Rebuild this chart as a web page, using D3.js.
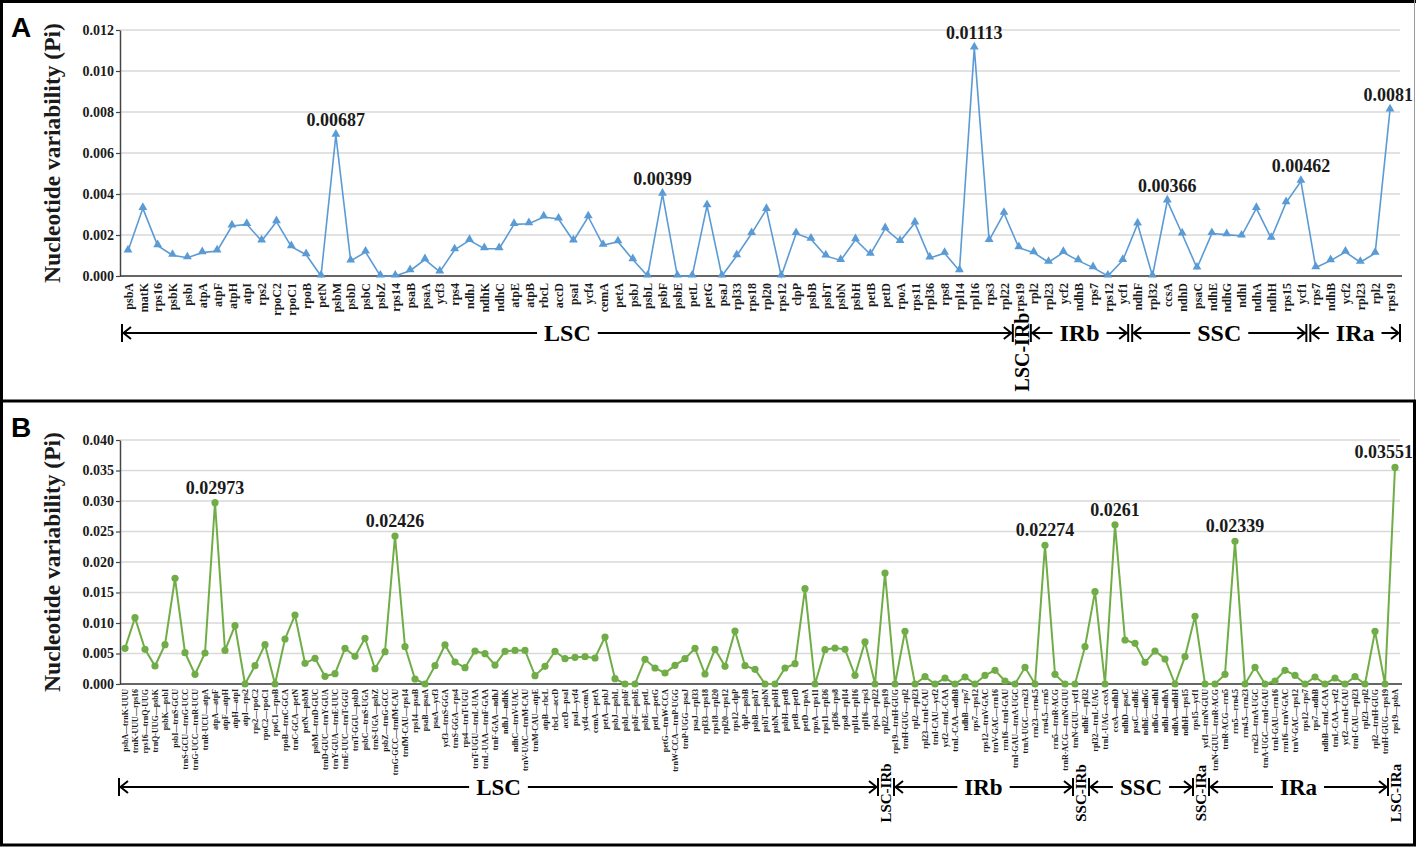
<!DOCTYPE html>
<html>
<head>
<meta charset="utf-8">
<script src="https://cdn.jsdelivr.net/npm/d3@7"></script>
<style>
  body { margin: 0; background: #fff; }
  svg { display: block; }
</style>
</head>
<body>
<svg id="chart" width="1417" height="847"></svg>
<script>
// ---- panel A: coding genes ----
const genesA = [
  "psbA", "matK", "rps16", "psbK", "psbI", "atpA", "atpF", "atpH", "atpI", "rps2",
  "rpoC2", "rpoC1", "rpoB", "petN", "psbM", "psbD", "psbC", "psbZ", "rps14", "psaB",
  "psaA", "ycf3", "rps4", "ndhJ", "ndhK", "ndhC", "atpE", "atpB", "rbcL", "accD",
  "psaI", "ycf4", "cemA", "petA", "psbJ", "psbL", "psbF", "psbE", "petL", "petG",
  "psaJ", "rpl33", "rps18", "rpl20", "rps12", "clpP", "psbB", "psbT", "psbN", "psbH",
  "petB", "petD", "rpoA", "rps11", "rpl36", "rps8", "rpl14", "rpl16", "rps3", "rpl22",
  "rps19", "rpl2", "rpl23", "ycf2", "ndhB", "rps7", "rps12", "ycf1", "ndhF", "rpl32",
  "ccsA", "ndhD", "psaC", "ndhE", "ndhG", "ndhI", "ndhA", "ndhH", "rps15", "ycf1",
  "rps7", "ndhB", "ycf2", "rpl23", "rpl2", "rps19"
];
const piA = [
  0.00122, 0.0033, 0.00148, 0.00101, 0.00089, 0.00114, 0.00122, 0.00244, 0.00252, 0.00171,
  0.00265, 0.00143, 0.00104, 0, 0.00687, 0.00073, 0.00117, 0, 0, 0.00026,
  0.0008, 0.0002, 0.00128, 0.00174, 0.00133, 0.00133, 0.00252, 0.00255, 0.00288, 0.00278,
  0.00171, 0.00289, 0.0015, 0.00167, 0.0008, 0, 0.00399, 0, 0, 0.00343,
  0, 0.00099, 0.00207, 0.00325, 0, 0.00207, 0.0018, 0.00098, 0.00076, 0.00177,
  0.00106, 0.00231, 0.00169, 0.00259, 0.00088, 0.00111, 0.00026, 0.01113, 0.00174, 0.00306,
  0.00138, 0.00114, 0.00067, 0.00115, 0.00075, 0.00041, 0, 0.00076, 0.00254, 0,
  0.00366, 0.00205, 0.00039, 0.00207, 0.00202, 0.00195, 0.0033, 0.00184, 0.00358, 0.00462,
  0.00041, 0.00075, 0.00117, 0.00067, 0.00111, 0.0081
];
const peaksA = [14, 36, 57, 70, 79, 85];
const peakTextA = ["0.00687", "0.00399", "0.01113", "0.00366", "0.00462", "0.0081"];
const ticksA = [0, 0.002, 0.004, 0.006, 0.008, 0.010, 0.012];
const regionsA = ["LSC", "IRb", "SSC", "IRa"];
const bordersA = [0, 60, 67.5, 79.5, 85];
const junctionsA = [null, "LSC-IRb", null, null, null];

// ---- panel B: intergenic spacers ----
const spacersB = [
  "psbA—trnK-UUU", "trnK-UUU—rps16", "rps16—trnQ-UUG", "trnQ-UUG—psbK", "psbK—psbI",
  "psbI—trnS-GCU", "trnS-GCU—trnG-UCC", "trnG-UCC—trnR-UCU", "trnR-UCU—atpA", "atpA—atpF",
  "atpF—atpH", "atpH—atpI", "atpI—rps2", "rps2—rpoC2", "rpoC2—rpoC1",
  "rpoC1—rpoB", "rpoB—trnC-GCA", "trnC-GCA—petN", "petN—psbM", "psbM—trnD-GUC",
  "trnD-GUC—trnY-GUA", "trnY-GUA—trnE-UUC", "trnE-UUC—trnT-GGU", "trnT-GGU—psbD", "psbC—trnS-UGA",
  "trnS-UGA—psbZ", "psbZ—trnG-GCC", "trnG-GCC—trnfM-CAU", "trnfM-CAU—rps14", "rps14—psaB",
  "psaB—psaA", "psaA—ycf3", "ycf3—trnS-GGA", "trnS-GGA—rps4", "rps4—trnT-UGU",
  "trnT-UGU—trnL-UAA", "trnL-UAA—trnF-GAA", "trnF-GAA—ndhJ", "ndhJ—ndhK", "ndhC—trnV-UAC",
  "trnV-UAC—trnM-CAU", "trnM-CAU—atpE", "atpB—rbcL", "rbcL—accD", "accD—psaI",
  "psaI—ycf4", "ycf4—cemA", "cemA—petA", "petA—psbJ", "psbJ—psbL",
  "psbL—psbF", "psbF—psbE", "psbE—petL", "petL—petG", "petG—trnW-CCA",
  "trnW-CCA—trnP-UGG", "trnP-UGG—psaJ", "psaJ—rpl33", "rpl33—rps18", "rps18—rpl20",
  "rpl20—rps12", "rps12—clpP", "clpP—psbB", "psbB—psbT", "psbT—psbN",
  "psbN—psbH", "psbH—petB", "petB—petD", "petD—rpoA", "rpoA—rps11",
  "rps11—rpl36", "rpl36—rps8", "rps8—rpl14", "rpl14—rpl16", "rpl16—rps3",
  "rps3—rpl22", "rpl22—rps19", "rps19—trnH-GUG", "trnH-GUG—rpl2", "rpl2—rpl23",
  "rpl23—trnI-CAU", "trnI-CAU—ycf2", "ycf2—trnL-CAA", "trnL-CAA—ndhB", "ndhB—rps7",
  "rps7—rps12", "rps12—trnV-GAC", "trnV-GAC—rrn16", "rrn16—trnI-GAU", "trnI-GAU—trnA-UGC",
  "trnA-UGC—rrn23", "rrn23—rrn4.5", "rrn4.5—rrn5", "rrn5—trnR-ACG", "trnR-ACG—trnN-GUU",
  "trnN-GUU—ycf1", "ndhF—rpl32", "rpl32—trnL-UAG", "trnL-UAG—ccsA", "ccsA—ndhD",
  "ndhD—psaC", "psaC—ndhE", "ndhE—ndhG", "ndhG—ndhI", "ndhI—ndhA",
  "ndhA—ndhH", "ndhH—rps15", "rps15—ycf1", "ycf1—trnN-GUU", "trnN-GUU—trnR-ACG",
  "trnR-ACG—rrn5", "rrn5—rrn4.5", "rrn4.5—rrn23", "rrn23—trnA-UGC", "trnA-UGC—trnI-GAU",
  "trnI-GAU—rrn16", "rrn16—trnV-GAC", "trnV-GAC—rps12", "rps12—rps7", "rps7—ndhB",
  "ndhB—trnL-CAA", "trnL-CAA—ycf2", "ycf2—trnI-CAU", "trnI-CAU—rpl23", "rpl23—rpl2",
  "rpl2—trnH-GUG", "trnH-GUG—rps19", "rps19—psbA"
];
const piB = [
  0.00585, 0.01087, 0.00568, 0.00295, 0.00645, 0.01732, 0.00514, 0.00158, 0.00508, 0.02973,
  0.0055, 0.00956, 0, 0.003, 0.00645, 0, 0.00738, 0.01131, 0.00339, 0.00421,
  0.00126, 0.00169, 0.00585, 0.00454, 0.00749, 0.00251, 0.0053, 0.02426, 0.00612, 0.00082,
  0, 0.003, 0.0064, 0.0036, 0.00268, 0.00541, 0.00497, 0.00311, 0.00536, 0.0055,
  0.0055, 0.00137, 0.0029, 0.00536, 0.00415, 0.00437, 0.00448, 0.00426, 0.0077, 0.00087,
  0, 0, 0.00404, 0.00262, 0.0018, 0.00306, 0.00415, 0.00585, 0.00164, 0.00568,
  0.0029, 0.00869, 0.003, 0.0024, 0, 0, 0.00262, 0.00333, 0.01563, 0,
  0.00563, 0.0059, 0.00568, 0.00142, 0.00689, 0, 0.0182, 0, 0.00863, 0,
  0.0012, 0, 0.00098, 0, 0.00115, 0, 0.00142, 0.00224, 0.00049, 0,
  0.00273, 0, 0.02274, 0.00158, 0, 0, 0.00612, 0.01514, 0, 0.0261,
  0.00721, 0.00667, 0.00355, 0.00541, 0.0041, 0, 0.00448, 0.01109, 0, 0,
  0.00158, 0.02339, 0, 0.00273, 0, 0.00049, 0.00224, 0.00142, 0, 0.00115,
  0, 0.00098, 0, 0.0012, 0, 0.00863, 0, 0.03551
];
const peaksB = [9, 27, 92, 99, 111, 127];
const peakTextB = ["0.02973", "0.02426", "0.02274", "0.0261", "0.02339", "0.03551"];
const ticksB = [0, 0.005, 0.010, 0.015, 0.020, 0.025, 0.030, 0.035, 0.040];
const regionsB = ["LSC", "IRb", "SSC", "IRa"];
const bordersB = [0, 76, 95.5, 107.5, 127];
const junctionsB = [null, "LSC-IRb", "SSC-IRb", "SSC-IRa", "LSC-IRa"];

const SERIF = '"Liberation Serif", "Times New Roman", serif';
const SANS = '"Liberation Sans", Arial, sans-serif';
const svg = d3.select("#chart");

function styleText(sel, size) {
  return sel.attr("font-family", SERIF).attr("font-weight", "bold")
    .attr("font-size", size).attr("fill", "#1a1a1a");
}

function drawPanel(o) {
  const g = svg.append("g");
  const n = o.labels.length;
  const x = d3.scaleLinear().domain([0, n - 1]).range([o.x0, o.x1]);
  const y = d3.scaleLinear().domain([0, o.yMax]).range([o.yBottom, o.yTop]);

  // grid
  g.append("g").selectAll("line")
    .data(o.ticks.filter((t) => t > 0))
    .join("line")
    .attr("x1", 120).attr("x2", 1400)
    .attr("y1", y).attr("y2", y)
    .attr("stroke", "#d9d9d9").attr("stroke-width", 1.5);

  // y axis
  const ya = g.append("g").attr("transform", "translate(120,0)")
    .call(d3.axisLeft(y).tickValues(o.ticks).tickFormat(d3.format(".3f"))
      .tickSize(4).tickSizeOuter(0).tickPadding(2));
  ya.select(".domain").attr("stroke", "#444").attr("stroke-width", 1.5);
  ya.selectAll(".tick line").attr("stroke", "#444").attr("stroke-width", 1.2);
  styleText(ya.selectAll("text"), 14);

  // x axis labels
  const xa = g.append("g").attr("transform", `translate(0,${o.yBottom})`)
    .call(d3.axisBottom(x).tickValues(d3.range(n)).tickFormat((i) => o.labels[i]).tickSize(0));
  xa.select(".domain").remove();
  styleText(xa.selectAll("text"), o.labelSize)
    .attr("transform", "rotate(-90)")
    .attr("text-anchor", "end")
    .attr("x", -o.labelGap).attr("y", 0).attr("dy", "0.35em");

  g.append("line")
    .attr("x1", 120).attr("x2", 1402)
    .attr("y1", o.yBottom).attr("y2", o.yBottom)
    .attr("stroke", "#333").attr("stroke-width", 1.5);

  // series
  g.append("path").datum(o.values)
    .attr("d", d3.line().x((d, i) => x(i)).y((d) => y(d)))
    .attr("fill", "none").attr("stroke", o.color).attr("stroke-width", o.lineWidth);

  if (o.marker === "triangle") {
    g.append("g").selectAll("path").data(o.values).join("path")
      .attr("d", d3.symbol(d3.symbolTriangle, 34))
      .attr("transform", (d, i) => `translate(${x(i)},${y(d) - 1})`)
      .attr("fill", o.color);
  } else {
    g.append("g").selectAll("circle").data(o.values).join("circle")
      .attr("cx", (d, i) => x(i)).attr("cy", (d) => y(d)).attr("r", 3.6)
      .attr("fill", o.color);
  }

  // peak values
  o.peaks.forEach((idx, k) => {
    const t = styleText(g.append("text"), 18)
      .attr("text-anchor", "middle")
      .attr("x", x(idx)).attr("y", y(o.values[idx]) - 9)
      .text(o.peakText[k]);
    const w = t.node().getComputedTextLength();
    if (x(idx) + w / 2 > 1413) t.attr("x", 1413 - w / 2);
  });

  // y title
  styleText(g.append("text"), 23.5)
    .attr("text-anchor", "middle")
    .attr("transform", `translate(60,${o.titleY}) rotate(-90)`)
    .text("Nucleotide variability (Pi)");

  // panel letter
  g.append("text")
    .attr("x", 11).attr("y", o.letterY)
    .attr("font-family", SANS).attr("font-weight", "bold").attr("font-size", 28)
    .attr("fill", "#000")
    .text(o.letter);

  // regions
  const ry = o.regionY;
  const jx = o.borders.map((b, k) => x(b) + (o.junctions[k] ? o.jShift : 0));
  const last = o.borders.length - 1;
  o.regions.forEach((name, k) => {
    let xl = jx[k], xr = jx[k + 1];
    if (k === 0) xl -= 6;
    else xl += o.junctions[k] ? o.jGap : 2;
    if (k + 1 === last && !o.junctions[last]) xr += 10;
    else xr -= o.junctions[k + 1] ? o.jGap : 2;

    const cx = (xl + xr) / 2;
    const t = styleText(g.append("text"), o.regionSize)
      .attr("fill", "#000")
      .attr("text-anchor", "middle")
      .attr("x", cx).attr("y", ry).attr("dy", "0.35em")
      .text(name);
    const w = t.node().getComputedTextLength();
    const pad = 7;
    const seg = g.append("g").attr("stroke", "#000").attr("stroke-width", 2).attr("fill", "none");
    seg.append("line").attr("x1", xl).attr("x2", cx - w / 2 - pad).attr("y1", ry).attr("y2", ry);
    seg.append("line").attr("x1", cx + w / 2 + pad).attr("x2", xr).attr("y1", ry).attr("y2", ry);
    seg.append("line").attr("x1", xl).attr("x2", xl).attr("y1", ry - 9).attr("y2", ry + 9);
    seg.append("line").attr("x1", xr).attr("x2", xr).attr("y1", ry - 9).attr("y2", ry + 9);
    seg.append("path").attr("d", `M${xl + 9},${ry - 6}L${xl + 1.5},${ry}L${xl + 9},${ry + 6}`);
    seg.append("path").attr("d", `M${xr - 9},${ry - 6}L${xr - 1.5},${ry}L${xr - 9},${ry + 6}`);
  });

  o.junctions.forEach((lab, k) => {
    if (!lab) return;
    styleText(g.append("text"), o.jSize)
      .attr("fill", "#000")
      .attr("text-anchor", "middle")
      .attr("transform", `translate(${jx[k]},${o.jLabelY}) rotate(-90)`)
      .attr("dy", "0.35em")
      .text(lab);
  });
}

drawPanel({
  letter: "A", letterY: 37, titleY: 153,
  labels: genesA, values: piA, peaks: peaksA, peakText: peakTextA,
  ticks: ticksA, yMax: 0.012, yTop: 30, yBottom: 276,
  x0: 128, x1: 1390, labelSize: 12, labelGap: 7,
  color: "#5b9bd5", lineWidth: 1.6, marker: "triangle",
  regions: regionsA, borders: bordersA, junctions: junctionsA,
  regionY: 333, regionSize: 24, jShift: 3, jGap: 9, jSize: 20, jLabelY: 352
});

drawPanel({
  letter: "B", letterY: 437, titleY: 562,
  labels: spacersB, values: piB, peaks: peaksB, peakText: peakTextB,
  ticks: ticksB, yMax: 0.04, yTop: 440, yBottom: 684,
  x0: 125, x1: 1395, labelSize: 8, labelGap: 5,
  color: "#70ad47", lineWidth: 2, marker: "circle",
  regions: regionsB, borders: bordersB, junctions: junctionsB,
  regionY: 787, regionSize: 23, jShift: 1, jGap: 8, jSize: 15, jLabelY: 793
});

// frames
svg.append("line").attr("x1", 0).attr("x2", 1416).attr("y1", 1.5).attr("y2", 1.5)
  .attr("stroke", "#000").attr("stroke-width", 3);
svg.append("line").attr("x1", 1.5).attr("x2", 1.5).attr("y1", 0).attr("y2", 400)
  .attr("stroke", "#000").attr("stroke-width", 3);
svg.append("line").attr("x1", 1414.5).attr("x2", 1414.5).attr("y1", 0).attr("y2", 400)
  .attr("stroke", "#999").attr("stroke-width", 1);
svg.append("rect").attr("x", 1.5).attr("y", 401).attr("width", 1413).attr("height", 444)
  .attr("fill", "none").attr("stroke", "#000").attr("stroke-width", 3);
</script>
</body>
</html>
